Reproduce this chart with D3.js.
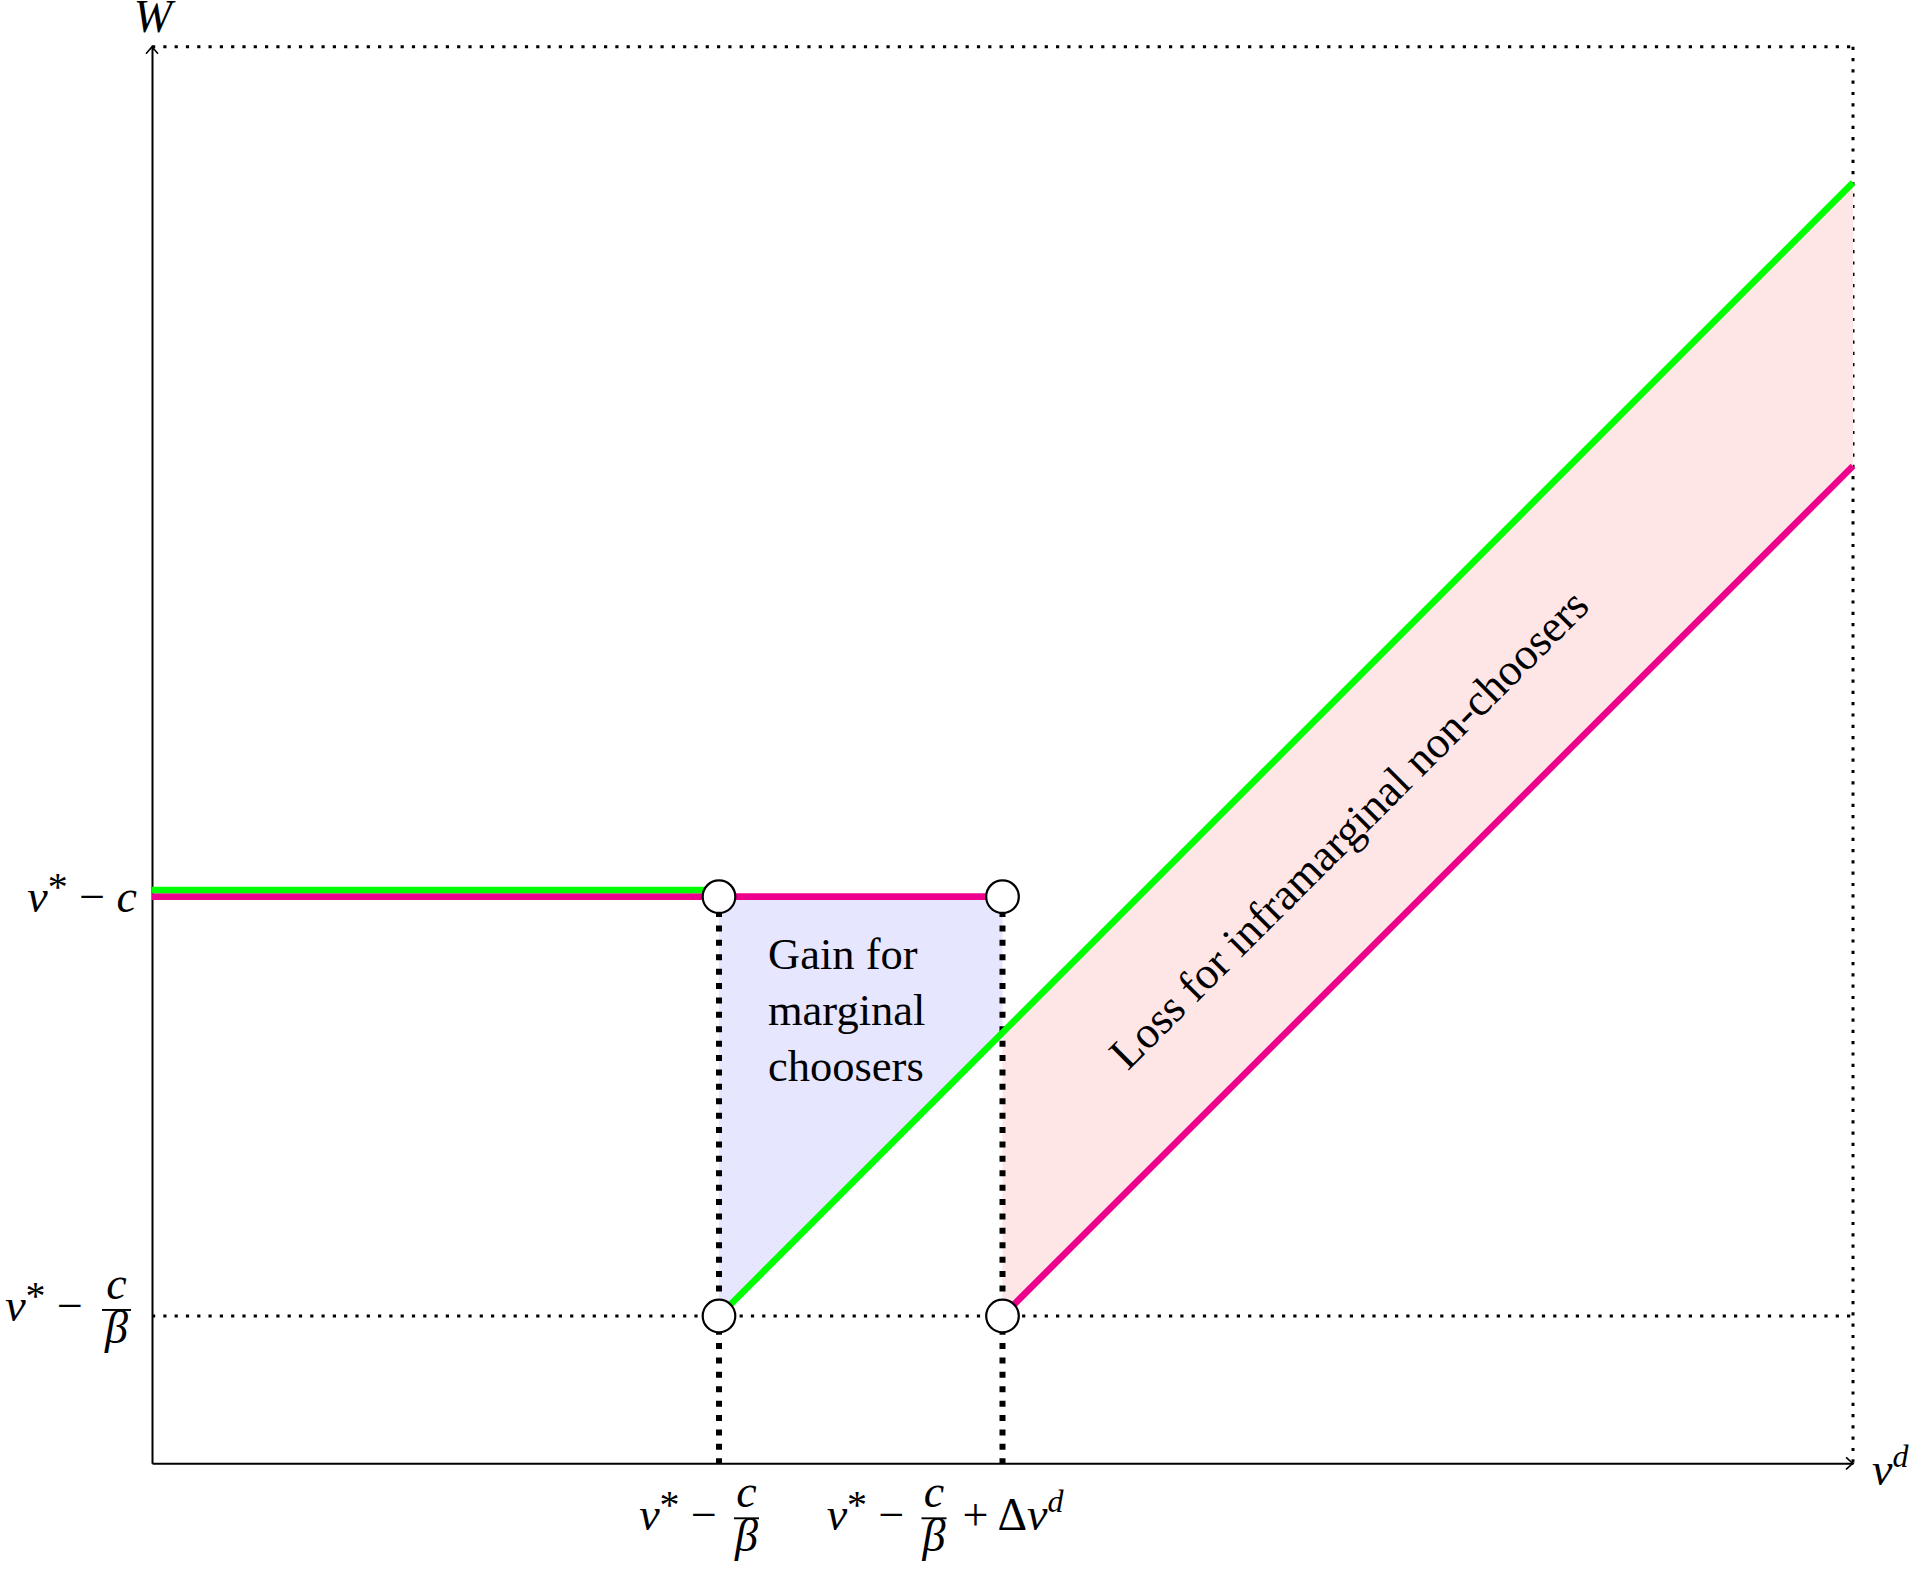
<!DOCTYPE html>
<html><head><meta charset="utf-8">
<script src="https://cdn.jsdelivr.net/npm/d3@7"></script>
<style>
html,body{margin:0;padding:0;background:#fff;}
svg{display:block;}
text{font-family:"Liberation Serif","Times New Roman",serif;fill:#000;}
</style></head>
<body>
<svg id="chart" width="1911" height="1571"></svg>
<script>
// ---------- data ----------
const xDomain = [0, 6];            // v^d axis extent (arbitrary units)
const yDomain = [0, 5];            // W axis extent
const xBreaks = [2, 3];            // v*-c/β , v*-c/β+Δv^d
const yBreaks = [0.52, 2.0];       // v*-c/β , v*-c
const greenFlat = [[0, 2.0], [2, 2.0]];
const greenRise = [[2, 0.52], [6, 4.52]];
const pinkFlat  = [[0, 2.0], [3, 2.0]];
const pinkRise  = [[3, 0.52], [6, 3.52]];
const gainArea  = [[2, 2.0], [3, 2.0], [3, 1.52], [2, 0.52]];
const lossArea  = [[3, 1.52], [6, 4.52], [6, 3.52], [3, 0.52]];
const openPoints = [[2, 2.0], [3, 2.0], [2, 0.52], [3, 0.52]];
const gainLines = ["Gain for", "marginal", "choosers"];
const lossLabel = "Loss for inframarginal non-choosers";

// ---------- setup ----------
const svg = d3.select("#chart");
const x = d3.scaleLinear().domain(xDomain).range([152, 1853]);
const y = d3.scaleLinear().domain(yDomain).range([1463.3, 46.7]);
const line = d3.line().x(d => x(d[0])).y(d => y(d[1]));
const poly = pts => line(pts) + "Z";

const GREEN = "#00ff00", PINK = "#ec008c";
const MATH = 46;

// thin dotted guide lines
const dotted = svg.append("g").attr("fill", "none").attr("stroke", "#000")
  .attr("stroke-width", 3).attr("stroke-dasharray", "3.2 8.1");
dotted.append("path").attr("d", line([[xDomain[0], yDomain[1]], [xDomain[1], yDomain[1]]]));
dotted.append("path").attr("d", line([[xDomain[1], yDomain[1]], [xDomain[1], yDomain[0]]]));
dotted.append("path").attr("d", line([[xDomain[0], yBreaks[0]], [xDomain[1], yBreaks[0]]]));

// shaded areas
svg.append("path").attr("d", poly(gainArea)).attr("fill", "#e6e6ff");
svg.append("path").attr("d", poly(lossArea)).attr("fill", "#ffe6e6");

// axes (domain lines only)
const xAxis = d3.axisBottom(x).tickValues([]).tickSizeOuter(0);
const yAxis = d3.axisLeft(y).tickValues([]).tickSizeOuter(0);
svg.append("g").attr("transform", `translate(0,${y(0)})`).call(xAxis)
  .call(g => g.select(".domain").attr("stroke-width", 2));
svg.append("g").attr("transform", `translate(${x(0)},0)`).call(yAxis)
  .call(g => g.select(".domain").attr("stroke-width", 2));
// arrow heads
const arrowPath = "M-6,7 C-3,3.5 -1,1.5 0,0 C1,1.5 3,3.5 6,7";
svg.append("path").attr("d", arrowPath).attr("fill", "none").attr("stroke", "#000").attr("stroke-width", 1.6)
  .attr("transform", `translate(${x(0)},${y(yDomain[1])})`);
svg.append("path").attr("d", arrowPath).attr("fill", "none").attr("stroke", "#000").attr("stroke-width", 1.6)
  .attr("transform", `translate(${x(xDomain[1])},${y(0)}) rotate(90)`);

// thick dotted verticals
svg.append("g").selectAll("path").data(xBreaks).join("path")
  .attr("d", d => line([[d, yBreaks[1]], [d, yDomain[0]]]))
  .attr("fill", "none").attr("stroke", "#000").attr("stroke-width", 6)
  .attr("stroke-dasharray", "6 8.4");

// welfare lines
const lw = 6.6;
svg.append("path").attr("d", line(pinkFlat)).attr("stroke", PINK).attr("stroke-width", lw).attr("fill", "none");
svg.append("path").attr("d", line(greenFlat)).attr("stroke", GREEN).attr("stroke-width", lw).attr("fill", "none")
  .attr("transform", `translate(0,${-lw})`);
svg.append("path").attr("d", line(greenRise)).attr("stroke", GREEN).attr("stroke-width", lw).attr("fill", "none");
svg.append("path").attr("d", line(pinkRise)).attr("stroke", PINK).attr("stroke-width", lw).attr("fill", "none");

// open circles
svg.append("g").selectAll("circle").data(openPoints).join("circle")
  .attr("cx", d => x(d[0])).attr("cy", d => y(d[1])).attr("r", 16.3)
  .attr("fill", "#fff").attr("stroke", "#000").attr("stroke-width", 2.2);

// ---------- math labels ----------
function vStarMinus(xEnd, base) {
  const t = svg.append("text").attr("x", xEnd).attr("y", base).attr("text-anchor", "end")
    .attr("font-size", MATH);
  t.append("tspan").attr("font-style", "italic").text("v");
  t.append("tspan").attr("font-size", 40).attr("dy", -12).text("*");
  t.append("tspan").attr("dy", 12).text(" \u2212");
  return t;
}
function frac(cx, barY, halfW) {
  svg.append("line").attr("x1", cx - halfW).attr("x2", cx + halfW).attr("y1", barY).attr("y2", barY)
    .attr("stroke", "#000").attr("stroke-width", 1.9);
  svg.append("text").attr("x", cx).attr("y", barY - 11).attr("text-anchor", "middle")
    .attr("font-size", MATH).attr("font-style", "italic").text("c");
  svg.append("text").attr("x", cx).attr("y", barY + 33).attr("text-anchor", "middle")
    .attr("font-size", MATH).attr("font-style", "italic").text("\u03b2");
}

// axis titles
svg.append("text").attr("x", x(0) + 1).attr("y", 32).attr("text-anchor", "middle")
  .attr("font-size", MATH).attr("font-style", "italic").text("W");
const vd = svg.append("text").attr("x", x(xDomain[1]) + 19).attr("y", y(0) + 22).attr("font-size", MATH);
vd.append("tspan").attr("font-style", "italic").text("v");
vd.append("tspan").attr("font-style", "italic").attr("font-size", 32).attr("dy", -18).text("d");

// y tick: v* - c
{
  const t = svg.append("text").attr("x", x(0) - 15).attr("y", y(yBreaks[1]) + 15)
    .attr("text-anchor", "end").attr("font-size", MATH);
  t.append("tspan").attr("font-style", "italic").text("v");
  t.append("tspan").attr("font-size", 40).attr("dy", -12).text("*");
  t.append("tspan").attr("dy", 12).text("  \u2212  ");
  t.append("tspan").attr("font-style", "italic").text("c");
}
// y tick: v* - c/β
vStarMinus(x(0) - 69, y(yBreaks[0]) + 5);
frac(x(0) - 35.5, y(yBreaks[0]) - 6, 14.5);

// x tick 1: v* - c/β
vStarMinus(x(xBreaks[0]) - 2, y(0) + 67);
frac(x(xBreaks[0]) + 27.5, y(0) + 55, 12.5);

// x tick 2: v* - c/β + Δv^d
vStarMinus(x(xBreaks[1]) - 98, y(0) + 67);
frac(x(xBreaks[1]) - 68.5, y(0) + 55, 12.5);
{
  const t = svg.append("text").attr("x", x(xBreaks[1]) - 40).attr("y", y(0) + 67).attr("font-size", MATH);
  t.append("tspan").text("+ \u0394");
  t.append("tspan").attr("font-style", "italic").text("v");
  t.append("tspan").attr("font-style", "italic").attr("font-size", 32).attr("dy", -18).text("d");
}

// ---------- annotations ----------
const gain = svg.append("text").attr("font-size", 44.5);
gain.selectAll("tspan").data(gainLines).join("tspan")
  .attr("x", x(xBreaks[0]) + 49)
  .attr("y", (d, i) => y(yBreaks[1]) + 72 + i * 56.3)
  .text(d => d);

const lx = 4.22, ly = lx - 1.98;
svg.append("text")
  .attr("transform", `translate(${x(lx)},${y(ly)}) rotate(-45)`)
  .attr("text-anchor", "middle").attr("dy", "0.35em").attr("font-size", 45)
  .text(lossLabel);
</script>
</body></html>
